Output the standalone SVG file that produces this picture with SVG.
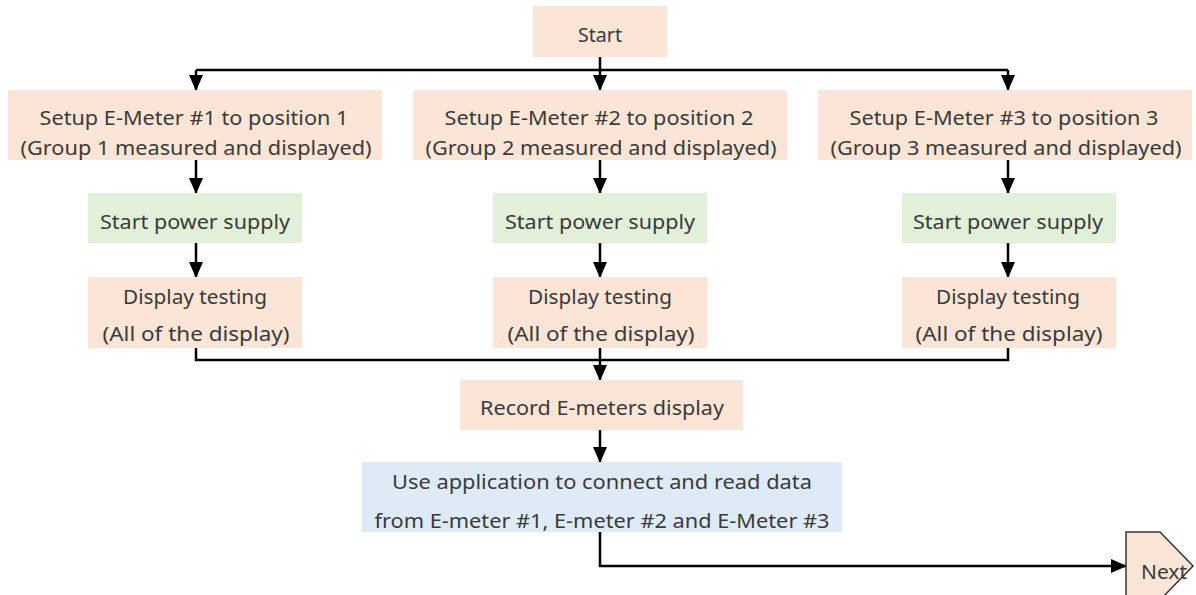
<svg xmlns="http://www.w3.org/2000/svg" width="1196" height="595" viewBox="0 0 1196 595">
<defs>
<style>
.o{fill:#FBE5D6}
.g{fill:#E2F0D9}
.b{fill:#DEEBF7}
text{font-family:"Noto Sans","Liberation Sans",sans-serif;font-size:20px;fill:#3a3a3a;text-anchor:middle}
.c{fill:none;stroke:#000;stroke-width:2.5}
</style>
<marker id="ah" markerWidth="16" markerHeight="16" viewBox="0 0 16 16" refX="15" refY="8" orient="auto" markerUnits="userSpaceOnUse">
<path d="M0,1 L16,8 L0,15 Z" fill="#000"/>
</marker>
</defs>
<rect width="1196" height="595" fill="#fff"/>
<g id="connectors">
<path class="c" d="M600,57 V90" marker-end="url(#ah)"/>
<path class="c" d="M196,70 H1008"/>
<path class="c" d="M196,70 V90" marker-end="url(#ah)"/>
<path class="c" d="M1008,70 V90" marker-end="url(#ah)"/>
<path class="c" d="M196,160 V193" marker-end="url(#ah)"/>
<path class="c" d="M600,160 V193" marker-end="url(#ah)"/>
<path class="c" d="M1008,160 V193" marker-end="url(#ah)"/>
<path class="c" d="M196,243 V277" marker-end="url(#ah)"/>
<path class="c" d="M600,243 V277" marker-end="url(#ah)"/>
<path class="c" d="M1008,243 V277" marker-end="url(#ah)"/>
<path class="c" d="M196,348 V360 H1008 V348"/>
<path class="c" d="M600,348 V380" marker-end="url(#ah)"/>
<path class="c" d="M600,430 V462" marker-end="url(#ah)"/>
<path class="c" d="M600,532 V566 H1126" marker-end="url(#ah)"/>
</g>
<g id="start">
<rect class="o" x="533" y="6" width="134" height="51"/>
<text x="600" y="42" textLength="44" lengthAdjust="spacingAndGlyphs">Start</text>
</g>
<g id="setup1">
<rect class="o" x="8" y="90" width="374" height="70"/>
<text x="194" y="125" textLength="309" lengthAdjust="spacingAndGlyphs">Setup E-Meter #1 to position 1</text>
<text x="196" y="155" textLength="351" lengthAdjust="spacingAndGlyphs">(Group 1 measured and displayed)</text>
</g>
<g id="setup2">
<rect class="o" x="413" y="90" width="374" height="70"/>
<text x="599" y="125" textLength="309" lengthAdjust="spacingAndGlyphs">Setup E-Meter #2 to position 2</text>
<text x="601" y="155" textLength="351" lengthAdjust="spacingAndGlyphs">(Group 2 measured and displayed)</text>
</g>
<g id="setup3">
<rect class="o" x="818" y="90" width="374" height="70"/>
<text x="1004" y="125" textLength="309" lengthAdjust="spacingAndGlyphs">Setup E-Meter #3 to position 3</text>
<text x="1006" y="155" textLength="351" lengthAdjust="spacingAndGlyphs">(Group 3 measured and displayed)</text>
</g>
<g id="power1">
<rect class="g" x="88" y="193" width="214" height="50"/>
<text x="195" y="229" textLength="190" lengthAdjust="spacingAndGlyphs">Start power supply</text>
</g>
<g id="power2">
<rect class="g" x="493" y="193" width="214" height="50"/>
<text x="600" y="229" textLength="190" lengthAdjust="spacingAndGlyphs">Start power supply</text>
</g>
<g id="power3">
<rect class="g" x="902" y="193" width="214" height="50"/>
<text x="1008" y="229" textLength="190" lengthAdjust="spacingAndGlyphs">Start power supply</text>
</g>
<g id="display1">
<rect class="o" x="88" y="277" width="214" height="71"/>
<text x="195" y="304" textLength="144" lengthAdjust="spacingAndGlyphs">Display testing</text>
<text x="196" y="341" textLength="187" lengthAdjust="spacingAndGlyphs">(All of the display)</text>
</g>
<g id="display2">
<rect class="o" x="493" y="277" width="214" height="71"/>
<text x="600" y="304" textLength="144" lengthAdjust="spacingAndGlyphs">Display testing</text>
<text x="601" y="341" textLength="187" lengthAdjust="spacingAndGlyphs">(All of the display)</text>
</g>
<g id="display3">
<rect class="o" x="902" y="277" width="214" height="71"/>
<text x="1008" y="304" textLength="144" lengthAdjust="spacingAndGlyphs">Display testing</text>
<text x="1009" y="341" textLength="187" lengthAdjust="spacingAndGlyphs">(All of the display)</text>
</g>
<g id="record">
<rect class="o" x="460" y="380" width="283" height="50"/>
<text x="602" y="415" textLength="244" lengthAdjust="spacingAndGlyphs">Record E-meters display</text>
</g>
<g id="useapp">
<rect class="b" x="362" y="462" width="480" height="70"/>
<text x="602" y="489" textLength="420" lengthAdjust="spacingAndGlyphs">Use application to connect and read data</text>
<text x="602" y="528" textLength="455" lengthAdjust="spacingAndGlyphs">from E-meter #1, E-meter #2 and E-Meter #3</text>
</g>
<g id="next">
<path d="M1126,532 H1160 L1193,566 L1160,600 H1126 Z" fill="#FBE5D6" stroke="#333" stroke-width="1.5"/>
<text x="1164" y="579" textLength="46" lengthAdjust="spacingAndGlyphs">Next</text>
</g>
</svg>
